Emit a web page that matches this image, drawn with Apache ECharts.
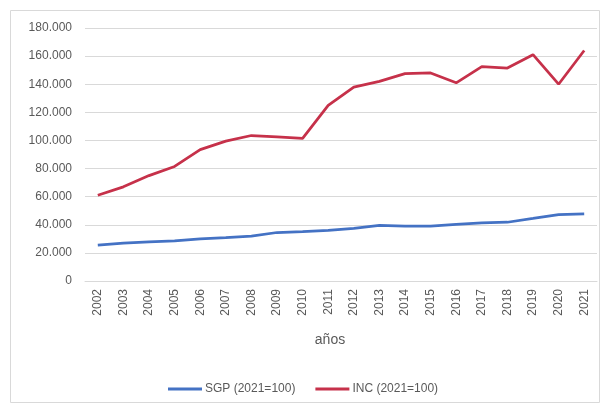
<!DOCTYPE html>
<html><head><meta charset="utf-8">
<script src="https://cdn.jsdelivr.net/npm/echarts@6/dist/echarts.min.js"></script>
<style>html,body{margin:0;padding:0;background:#fff}#c{width:605px;height:408px}</style>
</head><body><div id="c"></div>
<script>
const years = ['2002','2003','2004','2005','2006','2007','2008','2009','2010','2011','2012','2013','2014','2015','2016','2017','2018','2019','2020','2021'];
const sgp = [25500,27000,27800,28500,30000,30800,32000,34500,35200,36000,37500,39500,39000,39000,40300,41300,41800,44500,47300,47800];
const inc = [61000,67000,75000,81500,93500,99500,103500,102500,101500,125000,138000,142000,147500,148000,141000,152500,151500,161000,140000,164000];
const seriesNames = ['SGP (2021=100)','INC (2021=100)'];
const yTicks = {min:0, max:180000, interval:20000};

const chart = echarts.init(document.getElementById('c'));
const fmt = v => v === 0 ? '0' : (v/1000).toFixed(0) + '.000';
chart.setOption({
  animation:false,
  textStyle:{fontFamily:'Liberation Sans, Arial, sans-serif'},
  graphic:[{type:'rect',shape:{x:10.5,y:10.5,width:589,height:392},style:{fill:'none',stroke:'#D9D9D9',lineWidth:1},z:-1}],
  grid:{left:85,right:8,top:28,bottom:127},
  legend:{top:378,left:163,itemWidth:34,itemHeight:3,itemGap:20,icon:'rect',
    textStyle:{color:'#595959',fontSize:12,padding:[0,0,0,-2]},data:seriesNames},
  xAxis:{type:'category',data:years,boundaryGap:true,
    name:'años',nameLocation:'middle',nameGap:52,nameTextStyle:{color:'#595959',fontSize:14,padding:[0,22,0,0]},
    axisLine:{lineStyle:{color:'#D9D9D9'}},axisTick:{show:false},
    axisLabel:{rotate:90,color:'#595959',fontSize:12,margin:8}},
  yAxis:{type:'value',min:yTicks.min,max:yTicks.max,interval:yTicks.interval,
    axisLine:{show:false},axisTick:{show:false},
    splitLine:{lineStyle:{color:'#D9D9D9'}},
    axisLabel:{color:'#595959',fontSize:12,margin:13,formatter:fmt}},
  series:[
    {name:seriesNames[0],type:'line',data:sgp,symbol:'none',lineStyle:{color:'#4472C4',width:2.75},itemStyle:{color:'#4472C4'}},
    {name:seriesNames[1],type:'line',data:inc,symbol:'none',lineStyle:{color:'#C6314A',width:2.75},itemStyle:{color:'#C6314A'}}
  ]
});
</script></body></html>
